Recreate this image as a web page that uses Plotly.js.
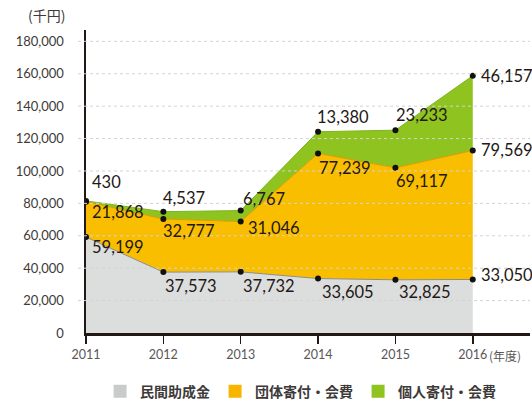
<!DOCTYPE html>
<html>
<head>
<meta charset="utf-8">
<script src="https://cdn.plot.ly/plotly-3.0.1.min.js"></script>
<style>html,body{margin:0;padding:0;background:#fff;}#chart{width:532px;height:405px;}</style>
</head>
<body>
<div id="chart"></div>
<script>
// ---- data ----
var years = [2011, 2012, 2013, 2014, 2015, 2016];
var seriesNames = ['民間助成金', '団体寄付・会費', '個人寄付・会費'];
var grants = [59199, 37573, 37732, 33605, 32825, 33050];        // 民間助成金
var orgDonations = [21868, 32777, 31046, 77239, 69117, 79569];  // 団体寄付・会費
var indivDonations = [430, 4537, 6767, 13380, 23233, 46157];    // 個人寄付・会費
var yTickVals = [0, 20000, 40000, 60000, 80000, 100000, 120000, 140000, 160000, 180000];
var yTickText = ['0', '20,000', '40,000', '60,000', '80,000', '100,000', '120,000', '140,000', '160,000', '180,000'];

// ---- styles ----
var fillColors = ['#dcdddd', '#fabe00', '#8fc31f'];
var lineColors = ['#8c8c8c', '#e09a00', '#7ab51d'];
var legendColors = ['#c9caca', '#f8b500', '#8fc31f'];
var dark = '#231815';
var numFont = 'Lato, "Noto Sans CJK JP", sans-serif';
var jpFont = '"Noto Sans CJK JP", sans-serif';

var series = [grants, orgDonations, indivDonations];
var cum = [];
var run = years.map(function(){return 0;});
series.forEach(function(s){ run = run.map(function(v,i){return v + s[i];}); cum.push(run.slice()); });

var traces = [];
series.forEach(function(s, k){
  traces.push({
    x: years, y: s, type: 'scatter', mode: 'lines', stackgroup: 'one',
    fillcolor: fillColors[k], line: {color: lineColors[k], width: 1},
    showlegend: false, hoverinfo: 'skip'
  });
});
// markers at stacked boundaries
cum.forEach(function(c){
  traces.push({x: years, y: c, type: 'scatter', mode: 'markers',
    marker: {color: '#111', size: 6}, showlegend: false, hoverinfo: 'skip'});
});
// legend proxies
seriesNames.forEach(function(n, k){
  traces.push({x: [null], y: [null], type: 'scatter', mode: 'markers', name: n,
    marker: {symbol: 'square', size: 13, color: legendColors[k]}, showlegend: true});
});

// label offsets (px) per series per year: [xshift, yshift]
var offsets = [
  [[4,-10],[0,-14],[0,-14],[2,-13],[2,-12],[6,4]],
  [[4,-10],[-2,-12],[5,-6],[-1,-15],[-1,-13],[6,1]],
  [[4,19],[-2,14],[0,12],[-3,15],[-1,15],[6,0]]
];
function fmt(v){ return v.toLocaleString('en-US'); }
var annotations = [];
series.forEach(function(s, k){
  s.forEach(function(v, i){
    annotations.push({x: years[i], y: cum[k][i], xref: 'x', yref: 'y', text: fmt(v),
      showarrow: false, xanchor: 'left', yanchor: 'middle',
      xshift: offsets[k][i][0], yshift: offsets[k][i][1],
      font: {family: numFont, size: 16.5, color: dark}});
  });
});
annotations.push({xref: 'paper', yref: 'paper', x: -0.088, y: 1.0495, xanchor: 'center', yanchor: 'middle',
  text: '(千円)', showarrow: false, font: {family: jpFont, size: 14, color: '#3e3a39'}});
annotations.push({xref: 'x', yref: 'paper', x: 2016, y: -0.075, xanchor: 'left', yanchor: 'middle', xshift: 14,
  text: '(年度)', showarrow: false, font: {family: jpFont, size: 12, color: '#595757'}});

var shapes = yTickVals.filter(function(v){return v > 0;}).map(function(v){
  return {type: 'line', xref: 'paper', yref: 'y', x0: -0.018, x1: 1, y0: v, y1: v,
    line: {color: '#d3d3d3', width: 1, dash: '3px,3px'}, layer: 'above'};
});

var layout = {
  width: 532, height: 405,
  margin: {l: 86, r: 2, t: 30, b: 72},
  paper_bgcolor: '#fff', plot_bgcolor: '#fff',
  showlegend: true,
  legend: {orientation: 'h', traceorder: 'normal', xref: 'container', yref: 'container', x: 0.565, xanchor: 'center',
    y: 0.033, yanchor: 'middle', font: {family: jpFont, size: 14, color: '#3e3a39', weight: 'bold'},
    itemclick: false, tracegroupgap: 0},
  xaxis: {range: [2011, 2016.74], tickvals: years, ticktext: years.map(String),
    showgrid: false, zeroline: false, showline: true, linecolor: dark, linewidth: 2.5,
    ticks: 'outside', ticklen: 8, tickwidth: 1.5, tickcolor: dark,
    tickfont: {family: numFont, size: 12.5, color: '#595757'}, fixedrange: true},
  yaxis: {range: [0, 187000], tickvals: yTickVals, ticktext: yTickText,
    showgrid: false, zeroline: false, showline: true, linecolor: dark, linewidth: 2.5,
    ticks: 'outside', ticklen: 17, tickcolor: 'rgba(0,0,0,0)',
    tickfont: {family: numFont, size: 13, color: '#3e3a39'}, fixedrange: true},
  shapes: shapes,
  annotations: annotations
};
Plotly.newPlot('chart', traces, layout, {displayModeBar: false, staticPlot: true});
</script>
</body>
</html>
